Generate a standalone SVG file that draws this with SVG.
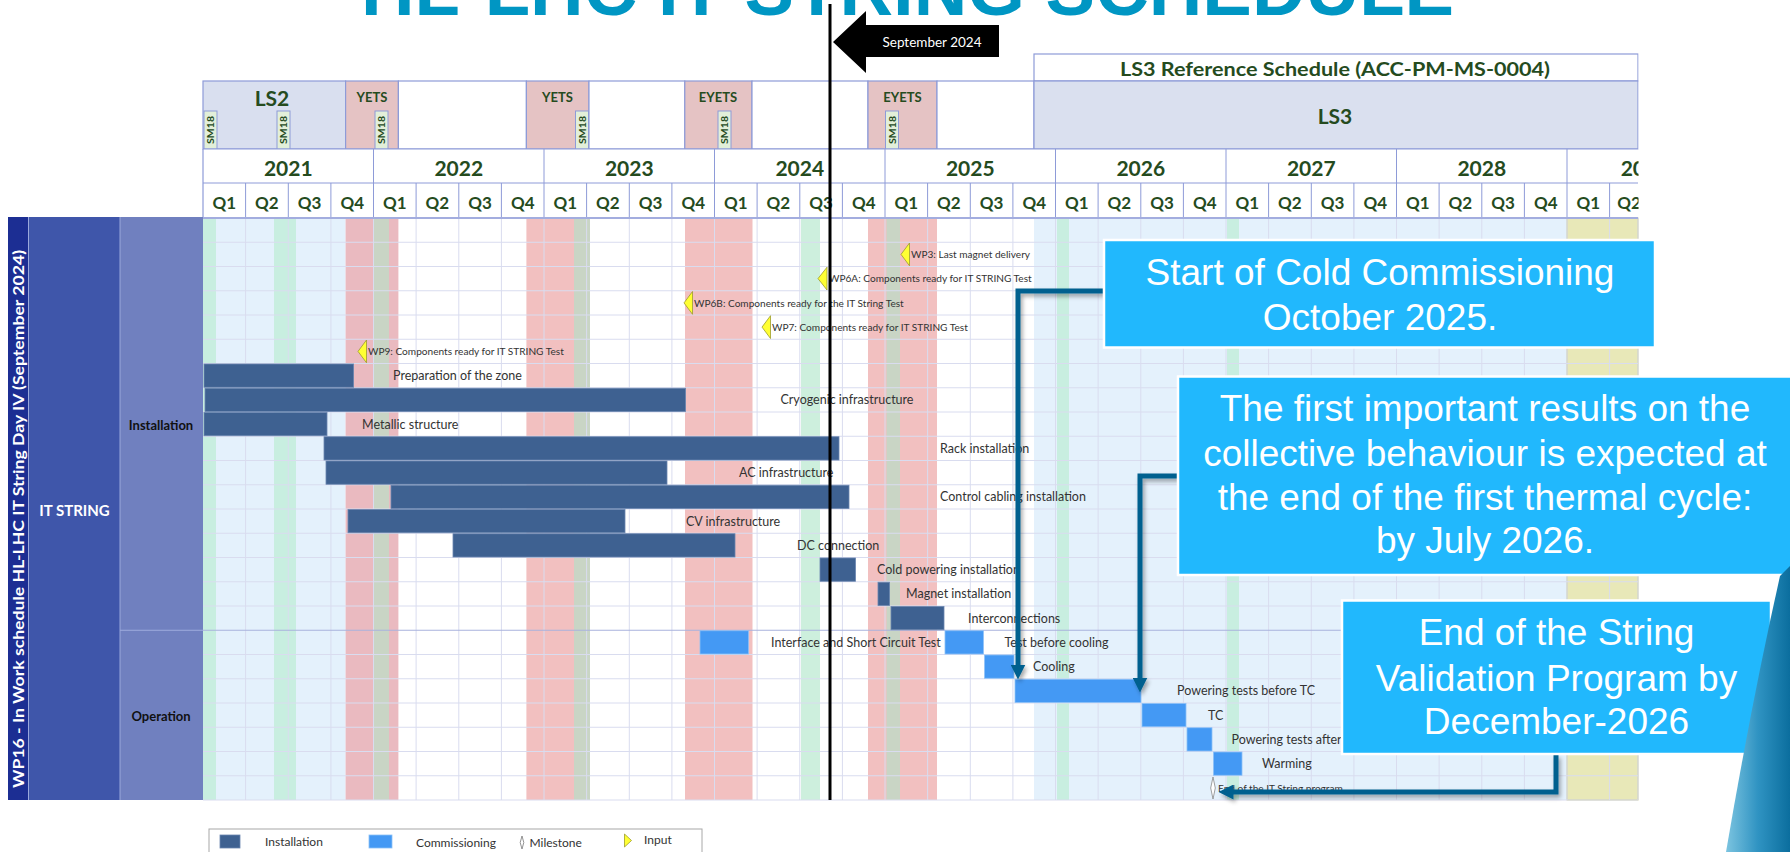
<svg xmlns="http://www.w3.org/2000/svg" width="1790" height="852" viewBox="0 0 1790 852">
  <defs>
    <style>
      .hdr { font-family: Lato, "Liberation Sans", sans-serif; font-weight: bold; fill: #254B1E; text-anchor: middle; }
      .yr { font-size: 21px; }
      .qt { font-size: 17px; }
      .cell { stroke: #8E9BD8; stroke-width: 1.2; }
      .sm { fill: #E2EFD9; stroke: #8E9BD8; stroke-width: 1; }
      .smt { font-family: Lato, "Liberation Sans", sans-serif; font-weight: bold; font-size: 10px; fill: #254B1E; text-anchor: middle; }
      .grid { stroke: #D9DCEF; stroke-width: 1; fill: none; }
      .hgrid { stroke: #8E9BD8; stroke-width: 1; fill: none; }
      .ins { fill: #3E6191; stroke: #6A86B0; stroke-width: 0.8; }
      .com { fill: #4499F4; stroke: #8CC0F8; stroke-width: 0.8; }
      .lbl { font-family: Lato, "Liberation Sans", sans-serif; font-size: 12.5px; fill: #333333; }
      .ms { font-family: Lato, "Liberation Sans", sans-serif; font-size: 10.1px; fill: #333333; }
      .inp { fill: #FFFF33; stroke: #9C9C2C; stroke-width: 0.8; }
      .side { font-family: Lato, "Liberation Sans", sans-serif; font-weight: bold; text-anchor: middle; }
      .note { fill: #21B8FD; stroke: #FFFFFF; stroke-width: 2.5; }
      .notet { font-family: "Liberation Sans", Arial, sans-serif; font-size: 37px; fill: #FFFFFF; text-anchor: middle; }
      .conn { fill: none; stroke: #04618F; stroke-width: 5; stroke-linejoin: miter; }
      .leg { font-family: Lato, "Liberation Sans", sans-serif; font-size: 12px; fill: #333333; }
    </style>
    <marker id="head" viewBox="0 0 10 10" refX="1" refY="5" markerWidth="3" markerHeight="3" orient="auto" markerUnits="strokeWidth">
      <path d="M0,0 L10,5 L0,10 Z" fill="#04618F"/>
    </marker>
    <filter id="shadow" x="-10%" y="-10%" width="130%" height="130%">
      <feDropShadow dx="2" dy="3" stdDeviation="2" flood-color="#000000" flood-opacity="0.35"/>
    </filter>
    <linearGradient id="swoosh" x1="0" y1="0" x2="1" y2="0">
      <stop offset="0" stop-color="#7CC4E0"/>
      <stop offset="0.5" stop-color="#2F93C2"/>
      <stop offset="1" stop-color="#0B6E9E"/>
    </linearGradient>
    <clipPath id="chartClip">
      <rect x="0" y="0" width="1638.5" height="852"/>
    </clipPath>
  </defs>

  <rect width="1790" height="852" fill="#FFFFFF"/>

  <!-- title (top of slide) -->
  <text x="907.5" y="15" font-family="'Liberation Sans', Arial, sans-serif" font-weight="bold" font-size="74" fill="#0096C3" text-anchor="middle" textLength="1093" lengthAdjust="spacingAndGlyphs">HL-LHC IT STRING SCHEDULE</text>

  <!-- body background bands -->
  <g id="bands">
    <rect x="203" y="218" width="142.6" height="582" fill="#E4F1FC"/>
    <rect x="203" y="218" width="13" height="582" fill="#C8EEE0"/>
    <rect x="274" y="218" width="22" height="582" fill="#C8EEE0"/>
    <rect x="345.6" y="218" width="52.8" height="582" fill="#EABAC0"/>
    <rect x="374" y="218" width="15" height="582" fill="#C9D5C5"/>
    <rect x="526.4" y="218" width="62.6" height="582" fill="#F2C0C0"/>
    <rect x="574" y="218" width="16" height="582" fill="#C9D5C5"/>
    <rect x="685" y="218" width="67.5" height="582" fill="#F2C0C0"/>
    <rect x="801" y="218" width="19" height="582" fill="#CDEFDD"/>
    <rect x="868" y="218" width="69" height="582" fill="#F2C0C0"/>
    <rect x="886.5" y="218" width="13.5" height="582" fill="#C9D5C5"/>
    <rect x="1034" y="218" width="533" height="582" fill="#E4F1FC"/>
    <rect x="1057" y="218" width="12" height="582" fill="#C8EEE0"/>
    <rect x="1227" y="218" width="12" height="582" fill="#C8EEE0"/>
    <rect x="1567" y="218" width="71" height="582" fill="#E8E8B8" stroke="#C9C98E" stroke-width="1"/>
  </g>

  <!-- body grid -->
  <g id="grid">
    <path class="grid" d="M245.6,218V800M288.3,218V800M330.9,218V800M373.5,218V800M416.1,218V800M458.8,218V800M501.4,218V800M544,218V800M586.6,218V800M629.3,218V800M671.9,218V800M714.5,218V800M757.1,218V800M799.8,218V800M842.4,218V800M885,218V800M927.6,218V800M970.3,218V800M1012.9,218V800M1055.5,218V800M1098.1,218V800M1140.8,218V800M1183.4,218V800M1226,218V800M1268.6,218V800M1311.3,218V800M1353.9,218V800M1396.5,218V800M1439.1,218V800M1481.8,218V800M1524.4,218V800M1567,218V800M1609.6,218V800"/>
    <path class="grid" d="M203,242.25H1638M203,266.5H1638M203,290.75H1638M203,315H1638M203,339.25H1638M203,363.5H1638M203,387.75H1638M203,412H1638M203,436.25H1638M203,460.5H1638M203,484.75H1638M203,509H1638M203,533.25H1638M203,557.5H1638M203,581.75H1638M203,606H1638M203,654.5H1638M203,678.75H1638M203,703H1638M203,727.25H1638M203,751.5H1638M203,775.75H1638M203,800H1638"/>
    <path d="M120,630.25H1638" stroke="#A9B2DD" stroke-width="1.2" fill="none"/>
    <path d="M1638,218V800" stroke="#D9DCEF" stroke-width="1" fill="none"/>
  </g>

  <!-- timeline header -->
  <g id="header" clip-path="url(#chartClip)">
    <rect class="cell" x="1034" y="54" width="604" height="27" fill="#FFFFFF"/>
    <text class="hdr" x="1335" y="76" font-size="18" textLength="430" lengthAdjust="spacingAndGlyphs">LS3 Reference Schedule (ACC-PM-MS-0004)</text>

    <rect class="cell" x="203" y="81" width="142.6" height="68" fill="#D9DFEF"/>
    <rect class="cell" x="345.6" y="81" width="52.8" height="68" fill="#E5C3C4"/>
    <rect class="cell" x="398.4" y="81" width="128" height="68" fill="#FFFFFF"/>
    <rect class="cell" x="526.4" y="81" width="62.6" height="68" fill="#E5C3C4"/>
    <rect class="cell" x="589" y="81" width="95.8" height="68" fill="#FFFFFF"/>
    <rect class="cell" x="684.8" y="81" width="67.2" height="68" fill="#E5C3C4"/>
    <rect class="cell" x="752" y="81" width="116" height="68" fill="#FFFFFF"/>
    <rect class="cell" x="868" y="81" width="69" height="68" fill="#E5C3C4"/>
    <rect class="cell" x="937" y="81" width="97" height="68" fill="#FFFFFF"/>
    <rect class="cell" x="1034" y="81" width="604" height="68" fill="#DAE0EF"/>

    <text class="hdr" x="272" y="106" font-size="21">LS2</text>
    <text class="hdr" x="372" y="102" font-size="13">YETS</text>
    <text class="hdr" x="557.5" y="102" font-size="13">YETS</text>
    <text class="hdr" x="718" y="102" font-size="13">EYETS</text>
    <text class="hdr" x="902.5" y="102" font-size="13">EYETS</text>
    <text class="hdr" x="1335" y="124" font-size="21">LS3</text>

    <!-- SM18 slots -->
    <rect class="sm" x="204" y="111" width="13" height="38"/>
    <rect class="sm" x="277" y="111" width="13" height="38"/>
    <rect class="sm" x="375" y="111" width="13" height="38"/>
    <rect class="sm" x="575.5" y="111" width="13" height="38"/>
    <rect class="sm" x="718" y="111" width="13" height="38"/>
    <rect class="sm" x="885.5" y="111" width="13" height="38"/>
    <text class="smt" transform="translate(214,130) rotate(-90)" textLength="28" lengthAdjust="spacingAndGlyphs">SM18</text>
    <text class="smt" transform="translate(287,130) rotate(-90)" textLength="28" lengthAdjust="spacingAndGlyphs">SM18</text>
    <text class="smt" transform="translate(385,130) rotate(-90)" textLength="28" lengthAdjust="spacingAndGlyphs">SM18</text>
    <text class="smt" transform="translate(585.5,130) rotate(-90)" textLength="28" lengthAdjust="spacingAndGlyphs">SM18</text>
    <text class="smt" transform="translate(728,130) rotate(-90)" textLength="28" lengthAdjust="spacingAndGlyphs">SM18</text>
    <text class="smt" transform="translate(895.5,130) rotate(-90)" textLength="28" lengthAdjust="spacingAndGlyphs">SM18</text>

    <!-- years row -->
    <rect x="203" y="149" width="1435" height="69" fill="#FFFFFF"/>
    <path class="hgrid" d="M203,149H1638M203,183H1638M373.5,149V183M544,149V183M714.5,149V183M885,149V183M1055.5,149V183M1226,149V183M1396.5,149V183M1567,149V183"/>
    <path class="hgrid" stroke-width="0.8" d="M245.6,183V218M288.3,183V218M330.9,183V218M373.5,183V218M416.1,183V218M458.8,183V218M501.4,183V218M544,183V218M586.6,183V218M629.3,183V218M671.9,183V218M714.5,183V218M757.1,183V218M799.8,183V218M842.4,183V218M885,183V218M927.6,183V218M970.3,183V218M1012.9,183V218M1055.5,183V218M1098.1,183V218M1140.8,183V218M1183.4,183V218M1226,183V218M1268.6,183V218M1311.3,183V218M1353.9,183V218M1396.5,183V218M1439.1,183V218M1481.8,183V218M1524.4,183V218M1567,183V218M1609.6,183V218"/>
    <path d="M203,149V218" stroke="#8E9BD8" stroke-width="1.2"/>
    <path d="M203,218H1638" stroke="#A3ADDF" stroke-width="2"/>

    <text class="hdr yr" x="288.3" y="175.5">2021</text>
    <text class="hdr yr" x="458.8" y="175.5">2022</text>
    <text class="hdr yr" x="629.3" y="175.5">2023</text>
    <text class="hdr yr" x="799.8" y="175.5">2024</text>
    <text class="hdr yr" x="970.3" y="175.5">2025</text>
    <text class="hdr yr" x="1140.8" y="175.5">2026</text>
    <text class="hdr yr" x="1311.3" y="175.5">2027</text>
    <text class="hdr yr" x="1481.8" y="175.5">2028</text>
    <text class="hdr yr" x="1645" y="175.5">2029</text>

    <text class="hdr qt" x="224.3" y="209">Q1</text>
    <text class="hdr qt" x="266.9" y="209">Q2</text>
    <text class="hdr qt" x="309.6" y="209">Q3</text>
    <text class="hdr qt" x="352.2" y="209">Q4</text>
    <text class="hdr qt" x="394.8" y="209">Q1</text>
    <text class="hdr qt" x="437.4" y="209">Q2</text>
    <text class="hdr qt" x="480.1" y="209">Q3</text>
    <text class="hdr qt" x="522.7" y="209">Q4</text>
    <text class="hdr qt" x="565.3" y="209">Q1</text>
    <text class="hdr qt" x="607.9" y="209">Q2</text>
    <text class="hdr qt" x="650.6" y="209">Q3</text>
    <text class="hdr qt" x="693.2" y="209">Q4</text>
    <text class="hdr qt" x="735.8" y="209">Q1</text>
    <text class="hdr qt" x="778.4" y="209">Q2</text>
    <text class="hdr qt" x="821.1" y="209">Q3</text>
    <text class="hdr qt" x="863.7" y="209">Q4</text>
    <text class="hdr qt" x="906.3" y="209">Q1</text>
    <text class="hdr qt" x="948.9" y="209">Q2</text>
    <text class="hdr qt" x="991.6" y="209">Q3</text>
    <text class="hdr qt" x="1034.2" y="209">Q4</text>
    <text class="hdr qt" x="1076.8" y="209">Q1</text>
    <text class="hdr qt" x="1119.4" y="209">Q2</text>
    <text class="hdr qt" x="1162.1" y="209">Q3</text>
    <text class="hdr qt" x="1204.7" y="209">Q4</text>
    <text class="hdr qt" x="1247.3" y="209">Q1</text>
    <text class="hdr qt" x="1289.9" y="209">Q2</text>
    <text class="hdr qt" x="1332.6" y="209">Q3</text>
    <text class="hdr qt" x="1375.2" y="209">Q4</text>
    <text class="hdr qt" x="1417.8" y="209">Q1</text>
    <text class="hdr qt" x="1460.4" y="209">Q2</text>
    <text class="hdr qt" x="1503.1" y="209">Q3</text>
    <text class="hdr qt" x="1545.7" y="209">Q4</text>
    <text class="hdr qt" x="1588.3" y="209">Q1</text>
    <text class="hdr qt" x="1629" y="209">Q2</text>
  </g>

  <!-- row titles on the left -->
  <g id="wp16">
    <rect x="8" y="217" width="20.5" height="583" fill="#1C2E93"/>
    <text class="side" transform="translate(23.5,519) rotate(-90)" font-size="15" fill="#FFFFFF" textLength="538" lengthAdjust="spacingAndGlyphs">WP16 - In Work schedule HL-LHC IT String Day IV (September 2024)</text>
  </g>
  <g id="it-string">
    <rect x="28.5" y="217" width="91.5" height="583" fill="#3F56AA"/>
    <text class="side" x="74.5" y="516" font-size="15" fill="#FFFFFF">IT STRING</text>
  </g>
  <g id="installation">
    <rect x="120" y="217" width="83" height="413.25" fill="#7080BF"/>
    <text class="side" x="161" y="430" font-size="13" fill="#111111">Installation</text>
  </g>
  <g id="operation">
    <rect x="120" y="630.25" width="83" height="169.75" fill="#7080BF"/>
    <text class="side" x="161" y="721" font-size="13" fill="#111111">Operation</text>
  </g>
  <path d="M28.5,217V800M120,217V800M120,630.25H203" stroke="#9AA8DC" stroke-width="1" fill="none"/>

  <!-- inputs from other work packages -->
  <g id="wp3"><polygon class="inp" points="901,254.4 909.5,243 909.5,265.8"/><text class="ms" x="911" y="258">WP3: Last magnet delivery</text></g>
  <g id="wp6a"><polygon class="inp" points="818,278.6 827,267.2 827,290"/><text class="ms" x="829" y="282.2">WP6A: Components ready for IT STRING Test</text></g>
  <g id="wp6b"><polygon class="inp" points="684,302.9 692.5,291.5 692.5,314.3"/><text class="ms" x="694" y="306.5">WP6B: Components ready for the IT String Test</text></g>
  <g id="wp7"><polygon class="inp" points="762,327.1 770.5,315.7 770.5,338.5"/><text class="ms" x="772" y="330.7">WP7: Components ready for IT STRING Test</text></g>
  <g id="wp9"><polygon class="inp" points="358,351.4 366.5,340 366.5,362.8"/><text class="ms" x="368" y="355">WP9: Components ready for IT STRING Test</text></g>

  <!-- installation activities -->
  <g id="prep-zone"><rect class="ins" x="204" y="364" width="149.6" height="23.25"/><text class="lbl" x="393" y="380">Preparation of the zone</text></g>
  <g id="cryogenic"><rect class="ins" x="205" y="388.25" width="480.6" height="23.25"/><text class="lbl" x="780.5" y="404.3">Cryogenic infrastructure</text></g>
  <g id="metallic"><rect class="ins" x="204" y="412.5" width="123" height="23.25"/><text class="lbl" x="362" y="428.5">Metallic structure</text></g>
  <g id="rack"><rect class="ins" x="324" y="436.75" width="515" height="23.25"/><text class="lbl" x="940" y="452.8">Rack installation</text></g>
  <g id="ac"><rect class="ins" x="326" y="461" width="341" height="23.25"/><text class="lbl" x="739" y="477">AC infrastructure</text></g>
  <g id="control-cabling"><rect class="ins" x="391" y="485.25" width="458" height="23.25"/><text class="lbl" x="940" y="501.3">Control cabling installation</text></g>
  <g id="cv"><rect class="ins" x="348" y="509.5" width="277" height="23.25"/><text class="lbl" x="686" y="525.5">CV infrastructure</text></g>
  <g id="dc"><rect class="ins" x="453" y="533.75" width="282" height="23.25"/><text class="lbl" x="797" y="549.8">DC connection</text></g>
  <g id="cold-powering"><rect class="ins" x="820" y="558" width="35.5" height="23.25"/><text class="lbl" x="877" y="574">Cold powering installation</text></g>
  <g id="magnet"><rect class="ins" x="878" y="582.25" width="11.6" height="23.25"/><text class="lbl" x="906" y="598.3">Magnet installation</text></g>
  <g id="interconnections"><rect class="ins" x="891" y="606.5" width="53" height="23.25"/><text class="lbl" x="968" y="622.5">Interconnections</text></g>

  <!-- commissioning activities -->
  <g id="interface-test"><rect class="com" x="700" y="630.75" width="48.5" height="23.25"/><text class="lbl" x="771" y="646.8">Interface and Short Circuit Test</text></g>
  <g id="test-before-cooling"><rect class="com" x="945" y="630.75" width="38.4" height="23.25"/><text class="lbl" x="1004.5" y="646.8">Test before cooling</text></g>
  <g id="cooling"><rect class="com" x="984.6" y="655" width="29.4" height="23.25"/><text class="lbl" x="1033" y="671">Cooling</text></g>
  <g id="powering-before-tc"><rect class="com" x="1015" y="679.25" width="126" height="23.25"/><text class="lbl" x="1177" y="695.3">Powering tests before TC</text></g>
  <g id="tc"><rect class="com" x="1142" y="703.5" width="44" height="23.25"/><text class="lbl" x="1208" y="719.5">TC</text></g>
  <g id="powering-after-tc"><rect class="com" x="1187" y="727.75" width="25" height="23.25"/><text class="lbl" x="1231.5" y="743.8">Powering tests after TC</text></g>
  <g id="warming"><rect class="com" x="1213.5" y="752" width="28.5" height="23.25"/><text class="lbl" x="1262" y="768">Warming</text></g>
  <g id="end-program"><path d="M1213,777 L1215.3,788 L1213,799 L1210.7,788 Z" fill="#FFFFFF" stroke="#888888" stroke-width="0.8"/><text class="ms" x="1218" y="792">End of the IT String program</text></g>

  <!-- status date -->
  <g id="status-date">
    <path d="M830,4V800" stroke="#000000" stroke-width="3"/>
    <path d="M833,42 L866,11 L866,25 L999,25 L999,57 L866,57 L866,73 Z" fill="#000000"/>
    <text x="932" y="46.5" font-family="Lato, 'Liberation Sans', sans-serif" font-size="13.5" fill="#FFFFFF" text-anchor="middle">September 2024</text>
  </g>

  <!-- legend -->
  <g id="legend">
    <rect x="209" y="829" width="493" height="26" fill="#FFFFFF" stroke="#A8A8A8" stroke-width="1"/>
    <rect class="ins" x="220" y="835" width="20" height="13"/>
    <text class="leg" x="265" y="846">Installation</text>
    <rect class="com" x="369" y="835" width="23" height="13"/>
    <text class="leg" x="416" y="847">Commissioning</text>
    <path d="M522,836 L523.8,842.5 L522,849 L520.2,842.5 Z" fill="#FFFFFF" stroke="#777777" stroke-width="0.8"/>
    <text class="leg" x="529.5" y="847">Milestone</text>
    <polygon class="inp" points="624.5,834 631.5,840.5 624.5,847"/>
    <text class="leg" x="644" y="844">Input</text>
  </g>

  <!-- callout leaders -->
  <g id="connectors" filter="url(#shadow)">
    <path class="conn" d="M1105,291 H1018 V666" marker-end="url(#head)"/>
    <path class="conn" d="M1179,476 H1140 V679" marker-end="url(#head)"/>
    <path class="conn" d="M1556,755 V792 H1232" marker-end="url(#head)"/>
  </g>

  <!-- callouts -->
  <g id="note-cold-commissioning">
    <rect class="note" x="1104" y="240" width="551" height="107.5"/>
    <text class="notet" x="1380" y="285">Start of Cold Commissioning</text>
    <text class="notet" x="1380" y="330">October 2025.</text>
  </g>
  <g id="note-first-results">
    <rect class="note" x="1178" y="376.5" width="614" height="198.5"/>
    <text class="notet" x="1485" y="421">The first important results on the</text>
    <text class="notet" x="1485" y="466">collective behaviour is expected at</text>
    <text class="notet" x="1485" y="510">the end of the first thermal cycle:</text>
    <text class="notet" x="1485" y="553">by July 2026.</text>
  </g>
  <g id="note-end-validation">
    <rect class="note" x="1342" y="600.5" width="429" height="153.5"/>
    <text class="notet" x="1556.5" y="645">End of the String</text>
    <text class="notet" x="1556.5" y="690.5">Validation Program by</text>
    <text class="notet" x="1556.5" y="734">December-2026</text>
  </g>

  <!-- slide corner accent -->
  <path d="M1780,576 Q1752,700 1726,852 L1790,852 L1790,566 Z" fill="url(#swoosh)"/>
</svg>
